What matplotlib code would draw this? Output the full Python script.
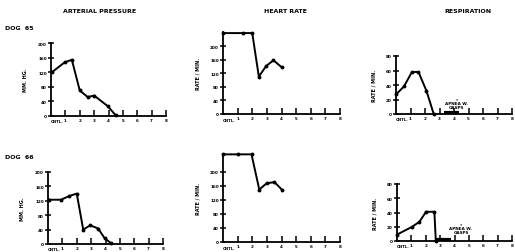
import matplotlib
matplotlib.use("Agg")
import matplotlib.pyplot as plt

W, H = 515, 253

# values (x in tick units, CNTL at 0)
ap65_x = [0.1, 0.95, 1.45, 2.0, 2.55, 3.0, 3.95, 4.5]
ap65_y = [121, 147, 154, 70, 52, 56, 27, 2]
hr65_x = [0, 1.4, 2.0, 2.45, 2.95, 3.45, 4.0]
hr65_y = [238, 238, 238, 110, 141, 158, 138]
rs65_x = [0, 0.55, 1.1, 1.55, 2.1, 2.6]
rs65_y = [27, 38, 58, 58, 32, 0]
ap66_x = [0.05, 0.92, 1.45, 2.0, 2.45, 2.94, 3.49, 3.94, 4.36]
ap66_y = [123, 123, 133, 140, 40, 52, 43, 16, 3]
hr66_x = [0, 1.0, 1.95, 2.48, 2.99, 3.52, 4.02]
hr66_y = [249, 249, 249, 149, 167, 170, 149]
rs66_x = [0, 1.06, 1.56, 2.02, 2.6, 2.7]
rs66_y = [9, 20, 27, 41, 41, 0]
apnea65_x = [3.3, 4.35]
apnea66_x = [2.7, 3.75]

x_ticks = [1, 2, 3, 4, 5, 6, 7, 8]
x_labels = ["1", "2", "3", "4", "5", "6", "7", "8"]
ap_ticks = [0, 40, 80, 120, 160, 200]
hr_ticks = [0, 40, 80, 120, 160, 200]
rs_ticks = [0, 20, 40, 60, 80]

fig = plt.figure(figsize=(W / 100, H / 100), dpi=100)


def make_ax(left, right, bottom, top_px, ylim, yticks, ylabel):
    ax = fig.add_axes([left / W, 1 - bottom / H, (right - left) / W, (bottom - top_px) / H])
    ax.set_xlim(0, 8)
    ax.set_ylim(0, ylim)
    for s in ["top", "right"]:
        ax.spines[s].set_visible(False)
    for s in ["left", "bottom"]:
        ax.spines[s].set_linewidth(1.3)
    ax.set_xticks(x_ticks)
    ax.set_xticklabels(x_labels)
    ax.set_yticks(yticks)
    ax.set_yticklabels([str(t) for t in yticks])
    ax.tick_params(axis="x", direction="in", length=4, width=1.1, labelsize=3, pad=1.5)
    ax.tick_params(axis="y", direction="inout", length=4, width=1.1, labelsize=3, pad=1)
    for lab in ax.get_xticklabels() + ax.get_yticklabels():
        lab.set_fontweight("bold")
    ax.text(0.45, -0.045, "CNTL.", transform=ax.get_xaxis_transform(),
            fontsize=2.8, fontweight="bold", ha="center", va="top")
    ax.set_ylabel(ylabel, fontsize=3.5, fontweight="bold", labelpad=7)
    ax.patch.set_alpha(0)
    return ax


def draw(ax, xs, ys):
    ax.plot(xs, ys, color="black", lw=1.4, marker="o", ms=1.8, clip_on=False)


ax = make_ax(51, 166, 117, 44, 200, ap_ticks, "MM. HG.")
draw(ax, ap65_x, ap65_y)
ax = make_ax(223, 340, 115, 33.4, 240, hr_ticks, "RATE / MIN.")
draw(ax, hr65_x, hr65_y)
ax = make_ax(396, 512, 115, 57, 80, rs_ticks, "RATE / MIN.")
draw(ax, rs65_x, rs65_y)
ax.plot(apnea65_x, [1, 1], color="black", lw=3, solid_capstyle="butt")
ax.text(4.2, 7, "*\nAPNEA W.\nGASPS", fontsize=3, fontweight="bold", ha="center",
        va="bottom", linespacing=1.0)

ax = make_ax(48, 163, 245, 173, 200, ap_ticks, "MM. HG.")
draw(ax, ap66_x, ap66_y)
ax = make_ax(223, 340, 243, 155, 250, hr_ticks, "RATE / MIN.")
draw(ax, hr66_x, hr66_y)
ax = make_ax(397, 512, 242, 185, 80, rs_ticks, "RATE / MIN.")
draw(ax, rs66_x, rs66_y)
ax.plot(apnea66_x, [1, 1], color="black", lw=3, solid_capstyle="butt")
ax.text(4.45, 10, "*\nAPNEA W.\nGASPS", fontsize=3, fontweight="bold", ha="center",
        va="bottom", linespacing=1.0)

fig.text(100 / W, 1 - 12 / H, "ARTERIAL PRESSURE", fontsize=4.5, fontweight="bold", ha="center", va="center")
fig.text(285 / W, 1 - 12 / H, "HEART RATE", fontsize=4.5, fontweight="bold", ha="center", va="center")
fig.text(468 / W, 1 - 12 / H, "RESPIRATION", fontsize=4.5, fontweight="bold", ha="center", va="center")
fig.text(5 / W, 1 - 29 / H, "DOG  65", fontsize=4.5, fontweight="bold", ha="left", va="center")
fig.text(5 / W, 1 - 158 / H, "DOG  66", fontsize=4.5, fontweight="bold", ha="left", va="center")

fig.savefig("out.png", dpi=100)
